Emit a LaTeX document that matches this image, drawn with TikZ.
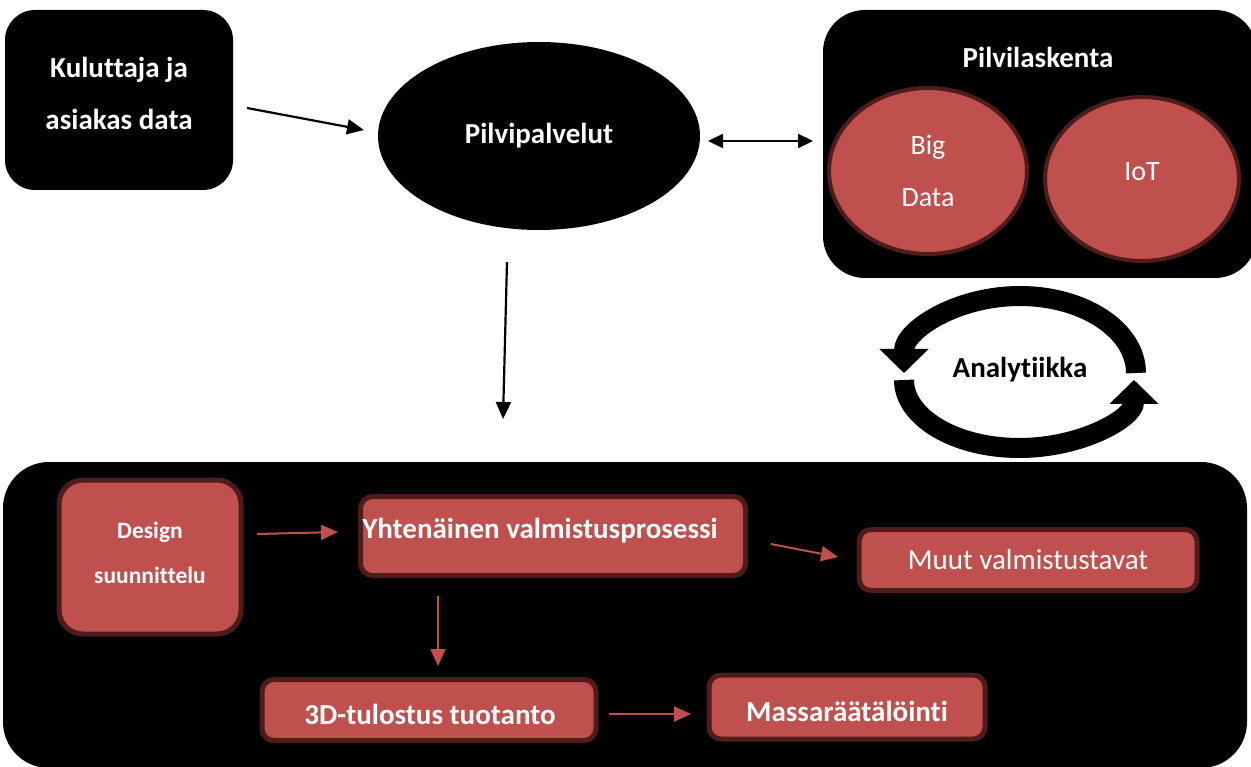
\documentclass[tikz,border=0pt]{standalone}
\usepackage{fontspec}
\setmainfont{Carlito}[Ligatures=NoCommon]
\usetikzlibrary{arrows.meta,shapes.geometric,calc}
\definecolor{brick}{HTML}{C0504D}
\definecolor{brickedge}{HTML}{4E1C1B}

\begin{document}
\begin{tikzpicture}[x=1pt,y=-1pt,
  darkpanel/.style={fill=black, inner sep=0pt, rounded corners=#1},
  darkpanel/.default=32pt,
  whitetext/.style={text=white, font=\bfseries\fontsize{29}{52}\selectfont, align=center},
  redbox/.style={draw=brickedge, line width=5pt, fill=brick, rounded corners=#1,
    inner sep=0pt, text=white, align=center},
  redbox/.default=12pt,
  redoval/.style={ellipse, draw=brickedge, line width=4pt, fill=brick, inner sep=0pt,
    text=white, align=center, font=\fontsize{28}{52}\selectfont},
  lighttext/.style={text=white, align=center, font=\fontsize{28}{52}\selectfont},
  boldlabel/.style={text=white, font=\bfseries\fontsize{29}{34}\selectfont},
  blackarrow/.style={line width=2.2pt, -{Triangle[length=17pt,width=15pt]}},
  twoway/.style={line width=2.2pt, {Triangle[length=15pt,width=14pt]}-{Triangle[length=15pt,width=14pt]}},
  redarrow/.style={draw=brick, line width=2pt, -{Triangle[length=17pt,width=15pt]}},
  cyclearc/.style={line width=20pt, -{Triangle[length=24pt,width=48pt]}}
]
\useasboundingbox (0,0) rectangle (1251,767);

% consumer data box
\node[darkpanel=30pt, minimum width=228pt, minimum height=180pt] (kulbox) at (119,100) {};
\node[whitetext] (kul) at (119,93) {Kuluttaja ja\\asiakas data};

% cloud services oval
\node[ellipse, fill=black, inner sep=0pt, minimum width=322pt, minimum height=188pt,
  whitetext] (pp) at (539,136) {Pilvipalvelut};

% cloud computing panel with its two ovals
\node[darkpanel=42pt, minimum width=434pt, minimum height=268pt] (pl) at (1040,144) {};
\node[whitetext] (pltitle) at (1038,57) {Pilvilaskenta};
\node[redoval, minimum width=198pt, minimum height=166pt] (big) at (928,171) {Big\\Data};
\node[redoval, minimum width=194pt, minimum height=164pt] (iot) at (1142,179) {};
\node[lighttext] (iottext) at (1142,172) {IoT};

% analytics cycle
\node[font=\bfseries\fontsize{29}{34}\selectfont] (anl) at (1020,370) {Analytiikka};
\coordinate (cyc) at (1020,376);
\draw[cyclearc] ($(cyc)+(116,-3)$) arc[start angle=0, end angle=-180, x radius=116, y radius=77];
\draw[cyclearc] ($(cyc)+(-116,4)$) arc[start angle=180, end angle=0, x radius=115, y radius=68];

% manufacturing panel
\node[darkpanel=46pt, minimum width=1244pt, minimum height=306pt] (mf) at (625,615) {};

\node[redbox=24pt, minimum width=182pt, minimum height=154pt] (des) at (150,557) {};
\node[text=white, align=center, font=\bfseries\fontsize{23.5}{45}\selectfont] (destext)
  at (150,553) {Design\\suunnittelu};
\node[redbox, minimum width=385pt, minimum height=79pt] (yht) at (553,536) {};
\node[boldlabel] (yhttext) at (540,531) {Yhtenäinen valmistusprosessi};
\node[redbox, minimum width=338pt, minimum height=61pt,
  font=\fontsize{29}{34}\selectfont] (muu) at (1028,560) {Muut valmistustavat};
\node[redbox, minimum width=334pt, minimum height=61pt] (tul) at (429,710) {};
\node[boldlabel] (tultext) at (430,714) {3D-tulostus tuotanto};
\node[redbox, minimum width=276pt, minimum height=64pt] (mas) at (847,707) {};
\node[boldlabel] (mastext) at (847,711) {Massaräätälöinti};

% connector end points
\coordinate (a1s) at (247,108);  \coordinate (a1e) at (364,130);
\coordinate (a2s) at (708,141);  \coordinate (a2e) at (813,141);
\coordinate (a3s) at (507,262);  \coordinate (a3e) at (503,419);
\coordinate (r1s) at (257,534);  \coordinate (r1e) at (338,532);
\coordinate (r2s) at (771,544);  \coordinate (r2e) at (838,557);
\coordinate (r3s) at (438,596);  \coordinate (r3e) at (438,666);
\coordinate (r4s) at (609,714);  \coordinate (r4e) at (691,714);

\draw[blackarrow] (a1s) -- (a1e);
\draw[twoway] (a2s) -- (a2e);
\draw[blackarrow] (a3s) -- (a3e);

\draw[redarrow] (r1s) -- (r1e);
\draw[redarrow] (r2s) -- (r2e);
\draw[redarrow] (r3s) -- (r3e);
\draw[redarrow] (r4s) -- (r4e);
\end{tikzpicture}
\end{document}
